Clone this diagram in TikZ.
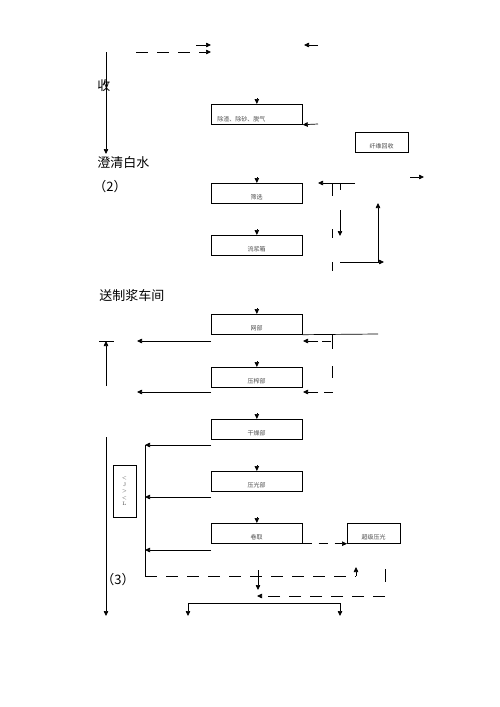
\documentclass[tikz,border=0pt]{standalone}
\usepackage{fontspec}
\newfontfamily\cjk{Noto Sans CJK SC}
\usetikzlibrary{arrows.meta}
\begin{document}
\begin{tikzpicture}[x=1pt,y=-1pt,
  every path/.style={line width=0.7pt},
  tip/.style={-{Triangle[length=5pt,width=4.5pt]}},
  box/.style={draw, line width=0.7pt, minimum width=91pt, minimum height=20pt, inner sep=0pt, anchor=north west},
  sbox/.style={draw, line width=0.7pt, minimum width=53pt, minimum height=20pt, inner sep=0pt, anchor=north west},
  lbl/.style={font=\cjk\fontsize{6}{7}\selectfont, text=black!70, inner sep=0pt},
  big/.style={font=\cjk\fontsize{13}{15}\selectfont, inner sep=0pt, anchor=west},
  dsh/.style={dash pattern=on 12pt off 9pt},
  dsh2/.style={dash pattern=on 9pt off 7pt}]
\useasboundingbox (0,0) rectangle (500,707);
% boxes
\node[box] (b1) at (211,104) {};
\node[lbl,anchor=west] (t1) at (217,119) {除渣、除砂、脱气};
\node[sbox] (bx) at (355,132) {};
\node[lbl] (tx) at (381.5,146) {纤维回收};
\node[box] (b2) at (211,183) {};
\node[lbl] (t2) at (256.5,197) {筛选};
\node[box] (b3) at (211,235) {};
\node[lbl] (t3) at (256.5,249) {流浆箱};
\node[box] (b4) at (211,314) {};
\node[lbl] (t4) at (256.5,328) {网部};
\node[box] (b5) at (211,367) {};
\node[lbl] (t5) at (256.5,381) {压榨部};
\node[box] (b6) at (211,419) {};
\node[lbl] (t6) at (256.5,433) {干燥部};
\node[box] (b7) at (211,471) {};
\node[lbl] (t7) at (256.5,485) {压光部};
\node[box] (b8) at (211,523) {};
\node[lbl] (t8) at (256.5,537) {卷取};
\node[sbox] (b9) at (347,523) {};
\node[lbl] (t9) at (373.5,537) {超级压光};
\node[draw, line width=0.7pt, minimum width=23pt, minimum height=52pt, inner sep=0pt, anchor=north west] (bt) at (113,465) {};
\node[font=\fontsize{5}{6.5}\selectfont, text=black!70, align=center, inner sep=0pt] (tt) at (124.5,491) {<\\J\\>\\<\\L};
% big labels
\node[big] (L1) at (97,86) {收};
\node[big] (L2) at (97,163) {澄清白水};
\node[big] (L3) at (93,187) {（2）};
\node[big] (L4) at (99,296) {送制浆车间};
\node[big] (L5) at (101,580) {（3）};
% main left line
\coordinate (m0) at (106,52);
\coordinate (m1) at (106,154);
\draw[tip] (m0) -- (m1);
\coordinate (u0) at (106,386);
\coordinate (u1) at (106,341);
\draw[tip] (u0) -- (u1);
\coordinate (u2) at (99,341);
\coordinate (u3) at (114,341);
\draw (u2) -- (u3);
\coordinate (d0) at (106,437);
\coordinate (d1) at (106,616);
\draw[tip] (d0) -- (d1);
% top
\coordinate (a0) at (136,52);
\coordinate (a1) at (211,52);
\draw[dsh,tip] (a0) -- (a1);
\coordinate (a2) at (196,45);
\coordinate (a3) at (211,45);
\draw[tip] (a2) -- (a3);
\coordinate (a4) at (318,45);
\coordinate (a5) at (304,45);
\draw[tip] (a4) -- (a5);
% down arrows into boxes
\foreach \b in {b1,b2,b3,b4,b5,b6,b7,b8}{
  \draw[tip] ([yshift=6pt]\b.north) -- (\b.north);
}
% box1 right arrow
\coordinate (c1) at (318,124);
\draw[tip] (c1) -- (b1.south east);
% screening right side
\coordinate (s0) at (355,183);
\coordinate (s1) at (318,183);
\draw[tip] (s0) -- (s1);
\coordinate (s2) at (332,183);
\coordinate (s3) at (332,196);
\draw (s2) -- (s3);
\coordinate (s4) at (340,183);
\coordinate (s5) at (340,190);
\draw (s4) -- (s5);
\coordinate (s6) at (340,210);
\coordinate (s7) at (340,236);
\draw[tip] (s6) -- (s7);
\coordinate (s8) at (332,229);
\coordinate (s9) at (332,238);
\draw (s8) -- (s9);
\coordinate (r0) at (378,262);
\coordinate (r1) at (378,203);
\draw[tip] (r0) -- (r1);
\coordinate (r2) at (340,262);
\coordinate (r3) at (384,262);
\draw[tip] (r2) -- (r3);
\coordinate (r4) at (332,262);
\coordinate (r5) at (332,271);
\draw (r4) -- (r5);
\coordinate (r6) at (410,177);
\coordinate (r7) at (424,177);
\draw[tip] (r6) -- (r7);
% wire section
\coordinate (w0) at (378,334);
\draw (b4.south east) -- (w0);
\coordinate (w1) at (211,341);
\coordinate (w2) at (137,341);
\draw[tip] (w1) -- (w2);
\coordinate (w3) at (318,341);
\coordinate (w4) at (303,341);
\draw[tip] (w3) -- (w4);
\coordinate (w5) at (322,341);
\coordinate (w6) at (331,341);
\draw (w5) -- (w6);
\coordinate (w7) at (332,335);
\coordinate (w8) at (332,349);
\draw (w7) -- (w8);
\coordinate (w9) at (332,366);
\coordinate (w10) at (332,378);
\draw (w9) -- (w10);
% press section
\coordinate (p1) at (211,392);
\coordinate (p2) at (137,392);
\draw[tip] (p1) -- (p2);
\coordinate (p3) at (318,392);
\coordinate (p4) at (303,392);
\draw[tip] (p3) -- (p4);
\coordinate (p5) at (324,392);
\coordinate (p6) at (333,392);
\draw (p5) -- (p6);
% dryer / calender / reel to the left collector
\coordinate (k0) at (145,445);
\coordinate (k1) at (145,576);
\draw (k0) -- (k1);
\coordinate (k2) at (211,445);
\draw[tip] (k2) -- (k0);
\coordinate (k3) at (211,497);
\coordinate (k4) at (145,497);
\draw[tip] (k3) -- (k4);
\coordinate (k5) at (211,550);
\coordinate (k6) at (145,550);
\draw[tip] (k5) -- (k6);
% reel to supercalender
\draw[dsh2,tip] (b8.south east) -- (b9.south west);
% bottom dashed loop
\coordinate (e0) at (356,576);
\coordinate (e1) at (356,567);
\draw[dsh] (k1) -- (e0);
\draw[tip] (e0) -- (e1);
\coordinate (e2) at (258,570);
\coordinate (e3) at (258,590);
\draw[tip] (e2) -- (e3);
\coordinate (e4) at (385,569);
\coordinate (e5) at (385,582);
\draw (e4) -- (e5);
\coordinate (e6) at (385,596);
\coordinate (e7) at (257,596);
\draw[dsh,tip] (e6) -- (e7);
% bottom split
\coordinate (f0) at (188,603);
\coordinate (f1) at (340,603);
\coordinate (f2) at (188,616);
\coordinate (f3) at (340,616);
\draw (f0) -- (f1);
\draw[tip] (f0) -- (f2);
\draw[tip] (f1) -- (f3);
\end{tikzpicture}
\end{document}
